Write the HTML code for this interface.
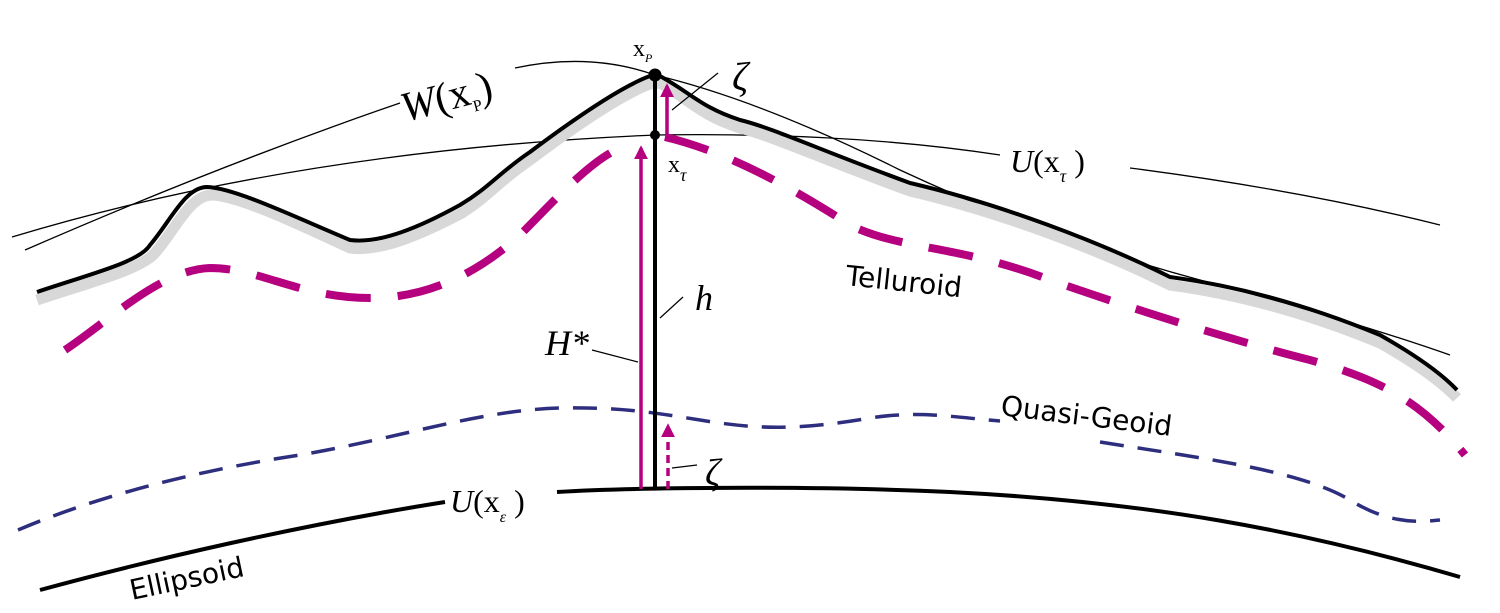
<!DOCTYPE html>
<html><head><style>
html,body{margin:0;padding:0;background:#fff;}
svg{display:block;}
text{font-family:"Liberation Serif",serif;}
.s{font-family:"DejaVu Sans","Liberation Sans",sans-serif;}
</style></head><body>
<svg width="1500" height="613" viewBox="0 0 1500 613" xmlns="http://www.w3.org/2000/svg">
<defs>
<marker id="ah" viewBox="0 0 10 10" refX="8" refY="5" markerWidth="4" markerHeight="4" orient="auto"><path d="M0,0 L10,5 L0,10 z" fill="#b5007f"/></marker>
</defs>
<path d="M25,250 Q220,165 400,103" fill="none" stroke="#000" stroke-width="1.3"/>
<path d="M515,68 Q590,52 655,75 Q760,100 900,170 Q1050,240 1200,280 Q1350,320 1450,355" fill="none" stroke="#000" stroke-width="1.3"/>
<path d="M12,237 Q300,150 655,135 Q850,132 1000,155" fill="none" stroke="#000" stroke-width="1.3"/>
<path d="M1130,168 Q1300,190 1440,225" fill="none" stroke="#000" stroke-width="1.3"/>
<path d="M37,300 C90,282 140,270 155,253 C175,230 190,195 212,195 C240,196 300,225 350,248 C380,252 420,235 462,213 C490,195 500,180 530,160 C570,130 620,95 650,84 L660,83 C690,100 700,115 740,128 C770,135 820,158 910,191 C1000,212 1100,250 1170,285 C1230,293 1300,310 1380,343 C1410,360 1440,380 1457,398" fill="none" stroke="#d8d8d8" stroke-width="11"/>
<path d="M37,292 C90,274 140,262 150,245 C170,222 185,187 207,187 C235,188 295,217 350,240 C380,244 420,227 460,205 C490,187 500,172 530,152 C570,122 620,87 650,76 L658,75 C690,92 700,107 740,120 C770,127 820,150 910,183 C1000,204 1100,242 1170,277 C1230,285 1300,302 1380,335 C1410,352 1440,372 1457,390" fill="none" stroke="#000" stroke-width="4"/>
<path d="M65,350 C110,320 160,270 210,268 C260,268 300,298 370,298 C420,298 470,280 520,235 C560,195 595,155 628,145" fill="none" stroke="#b5007f" stroke-width="8" stroke-dasharray="45,27"/>
<path d="M665,137 C720,150 780,180 850,225 C900,250 960,245 1050,280 C1150,315 1250,345 1310,360 C1380,380 1420,400 1465,455" fill="none" stroke="#b5007f" stroke-width="8" stroke-dasharray="45,27"/>
<path d="M18,530 C100,495 200,470 300,455 C400,438 480,410 560,408 C620,407 650,412 700,420 C760,430 800,430 870,418 C920,410 960,418 1000,421" fill="none" stroke="#2e2e7f" stroke-width="3.5" stroke-dasharray="24,14"/>
<path d="M1100,442 C1200,458 1300,470 1350,500 C1390,525 1420,522 1440,520" fill="none" stroke="#2e2e7f" stroke-width="3.5" stroke-dasharray="24,14"/>
<path d="M40,590 C150,560 300,525 445,502" fill="none" stroke="#000" stroke-width="4"/>
<path d="M557,492 C620,488 800,485 950,492 C1150,502 1300,530 1460,577" fill="none" stroke="#000" stroke-width="4"/>
<line x1="655" y1="75" x2="655" y2="489" stroke="#000" stroke-width="4"/>
<line x1="641" y1="489" x2="641" y2="148" stroke="#b5007f" stroke-width="3.5" marker-end="url(#ah)"/>
<line x1="667" y1="137" x2="667" y2="86" stroke="#b5007f" stroke-width="3.5" marker-end="url(#ah)"/>
<line x1="668" y1="489" x2="668" y2="426" stroke="#b5007f" stroke-width="3.5" stroke-dasharray="8,5" marker-end="url(#ah)"/>
<circle cx="655" cy="75" r="6.5" fill="#000"/>
<circle cx="655" cy="135" r="5" fill="#000"/>
<line x1="672" y1="110" x2="718" y2="73" stroke="#000" stroke-width="1.2"/>
<line x1="592" y1="350" x2="638" y2="362" stroke="#000" stroke-width="1.2"/>
<line x1="672" y1="468" x2="697" y2="465" stroke="#000" stroke-width="1.2"/>
<line x1="683" y1="297" x2="660" y2="318" stroke="#000" stroke-width="1.2"/>
<text x="633" y="56" font-size="24">x<tspan font-size="12" font-style="italic" dy="6">P</tspan></text>
<text x="732" y="90" font-size="40" font-style="italic">ζ</text>
<text x="668" y="172" font-size="24">x<tspan font-size="18" font-style="italic" dy="9">τ</tspan></text>
<text x="1010" y="172" font-size="32"><tspan font-style="italic">U</tspan>(x<tspan font-size="18" font-style="italic" dy="10">τ</tspan><tspan dy="-10"> )</tspan></text>
<text x="405" y="122" font-size="42" transform="rotate(-15 405 122)"><tspan font-style="italic">W</tspan>(x<tspan font-size="16" dy="8">P</tspan><tspan dy="-8">)</tspan></text>
<text class="s" x="845" y="285" font-size="28" transform="rotate(6 845 285)">Telluroid</text>
<text x="695" y="310" font-size="36" font-style="italic">h</text>
<text x="545" y="355" font-size="36" font-style="italic">H*</text>
<text class="s" x="1000" y="415" font-size="28" transform="rotate(7 1000 415)">Quasi-Geoid</text>
<text x="705" y="485" font-size="38" font-style="italic">ζ</text>
<text x="450" y="512" font-size="32"><tspan font-style="italic">U</tspan>(x<tspan font-size="16" font-style="italic" dy="10">ε</tspan><tspan dy="-10"> )</tspan></text>
<text class="s" x="132" y="600" font-size="28" transform="rotate(-12 132 600)">Ellipsoid</text>
</svg>
</body></html>
